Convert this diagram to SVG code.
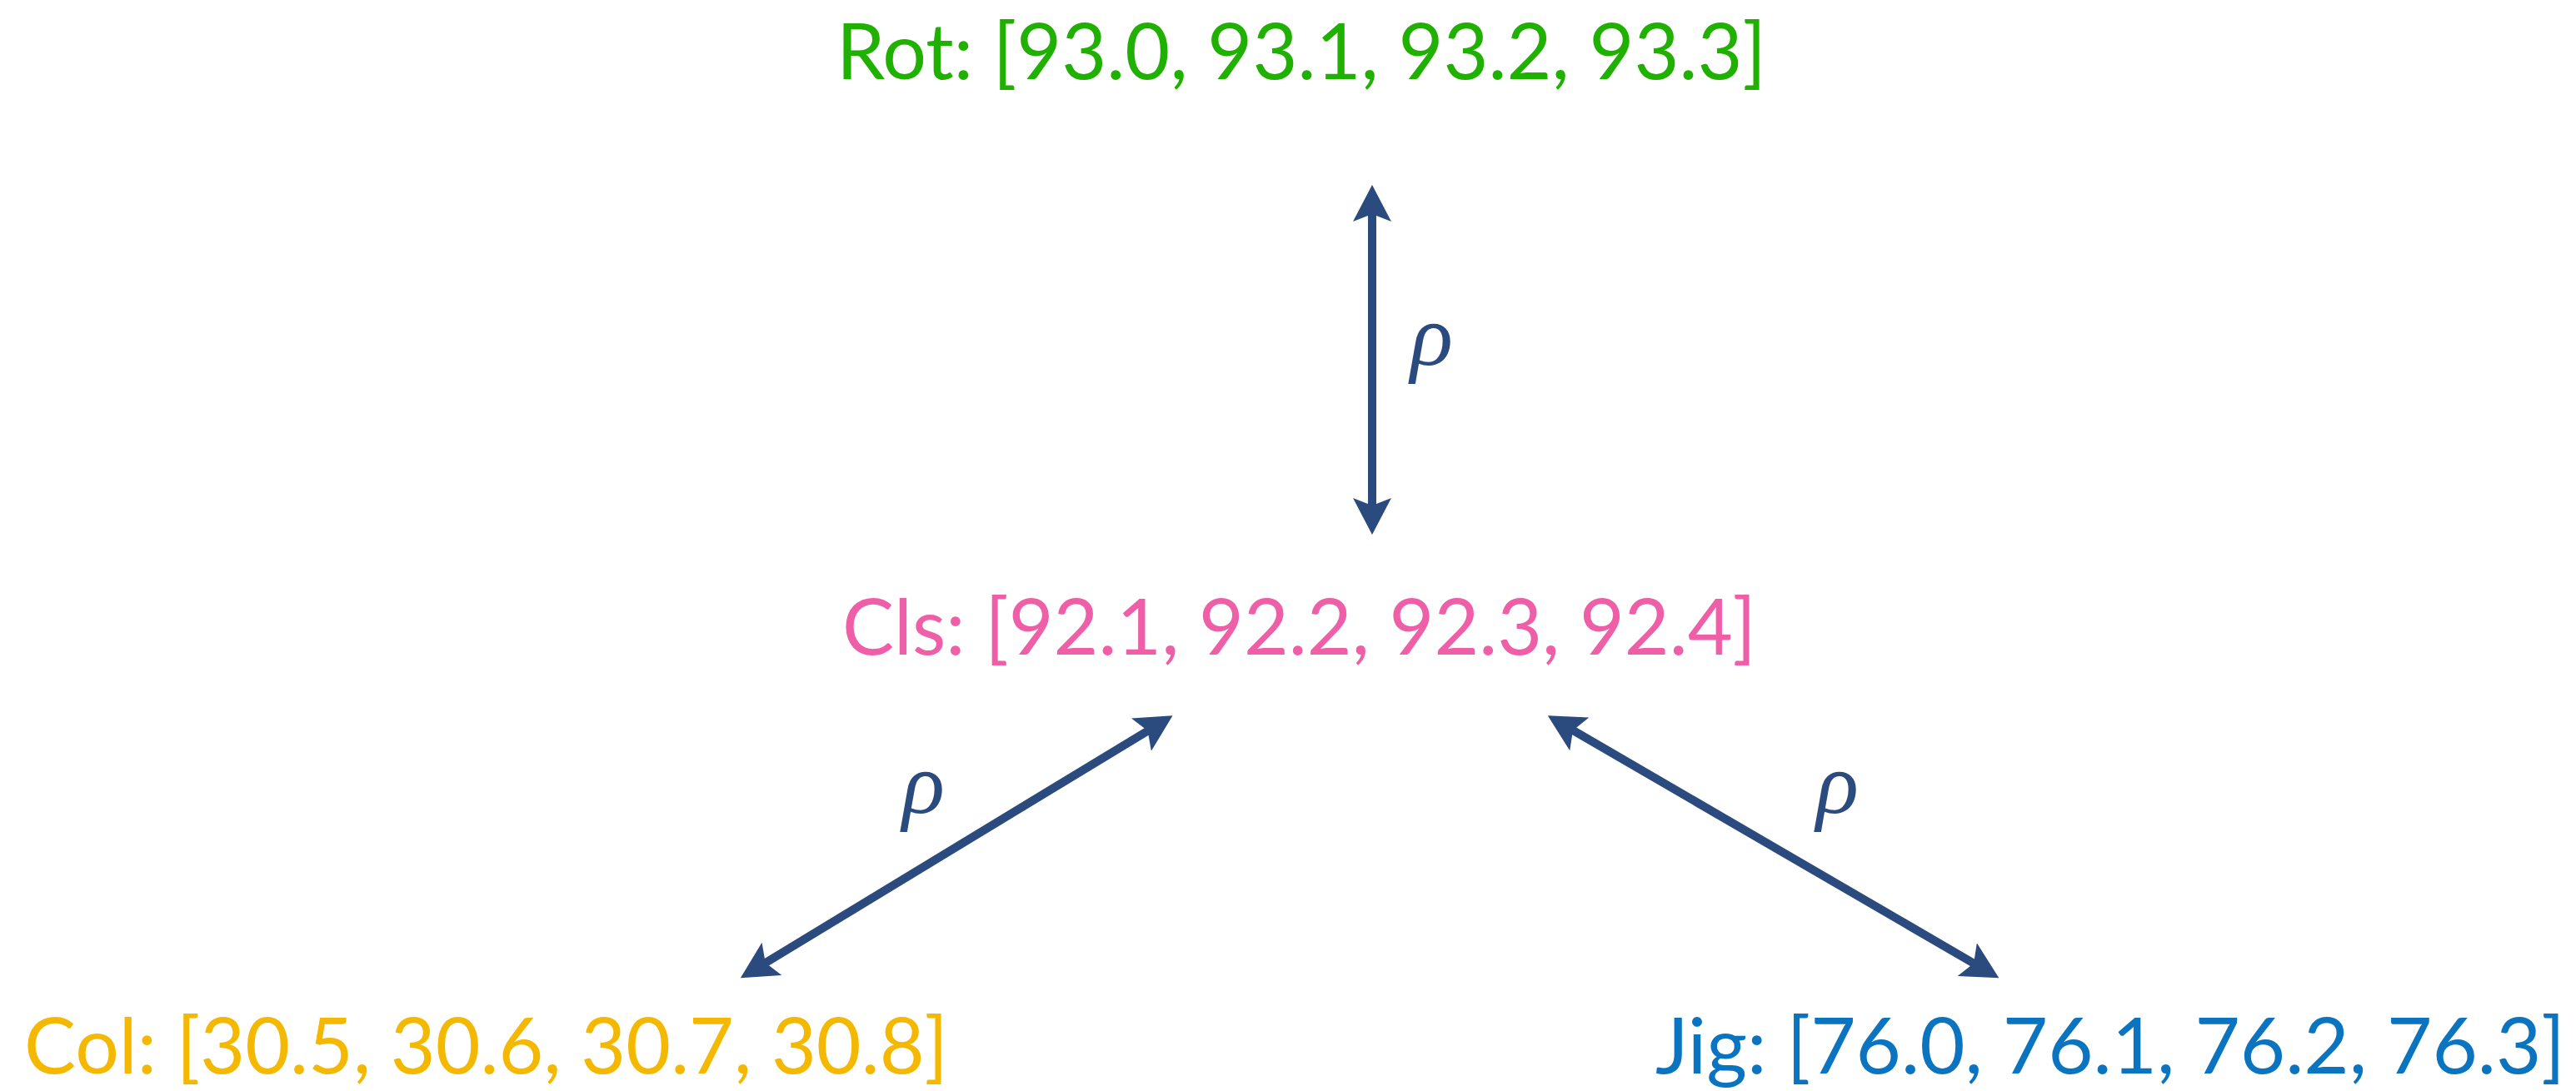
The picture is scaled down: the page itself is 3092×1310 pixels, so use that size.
<svg xmlns="http://www.w3.org/2000/svg" width="3092" height="1310" viewBox="0 0 3092 1310">
<style>
.lbl{font-family:Lato,"Open Sans","Liberation Sans",sans-serif;font-weight:400;font-size:93px}
.rho{font-family:"Liberation Serif","DejaVu Serif",serif;font-style:italic;font-size:106px;fill:#2b4a7e}
.conn{stroke:#2b4a7e;stroke-width:10;fill:none;marker-start:url(#ah);marker-end:url(#ah)}
</style>
<defs>
<marker id="ah" markerUnits="userSpaceOnUse" viewBox="0 0 44 46" refX="14" refY="23" markerWidth="44" markerHeight="46" orient="auto-start-reverse">
<path d="M0,0 L44,23 L0,46 L9,23 z" fill="#2b4a7e"/>
</marker>
</defs>
<rect width="3092" height="1310" fill="#ffffff"/>
<g id="rot"><text class="lbl" x="1004" y="95" fill="#1fb000" textLength="1116" lengthAdjust="spacingAndGlyphs">Rot: [93.0, 93.1, 93.2, 93.3]</text></g>
<g id="cls"><text class="lbl" x="1011" y="786" fill="#ee5fa7" textLength="1097" lengthAdjust="spacingAndGlyphs">Cls: [92.1, 92.2, 92.3, 92.4]</text></g>
<g id="col"><text class="lbl" x="29" y="1289" fill="#f5b800" textLength="1109" lengthAdjust="spacingAndGlyphs">Col: [30.5, 30.6, 30.7, 30.8]</text></g>
<g id="jig"><text class="lbl" x="1987" y="1289" fill="#0a74c0" textLength="1092" lengthAdjust="spacingAndGlyphs">Jig: [76.0, 76.1, 76.2, 76.3]</text></g>
<g id="connectors">
<line class="conn" x1="1647" y1="252" x2="1647" y2="612"/>
<line class="conn" x1="1381.9" y1="874.9" x2="914.5" y2="1158.7"/>
<line class="conn" x1="1883.7" y1="874.4" x2="2373.4" y2="1159.2"/>
<text class="rho" x="1693" y="438">ρ</text>
<text class="rho" x="1083" y="976">ρ</text>
<text class="rho" x="2180" y="976">ρ</text>
</g>
</svg>
